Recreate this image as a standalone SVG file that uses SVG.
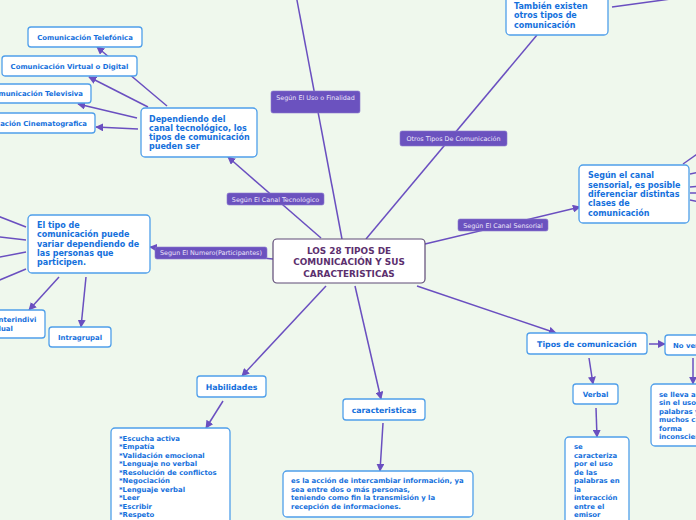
<svg xmlns="http://www.w3.org/2000/svg" width="696" height="520" viewBox="0 0 696 520">
<style>
.bg{fill:#eff8ed}
.n{fill:#fff;stroke:#4f9fea;stroke-width:1.3}
.t{font-family:"DejaVu Sans",Verdana,sans-serif;font-weight:bold;fill:#1470dc}
.s{font-size:6.9px}
.m{font-size:8px}
.lb{fill:#6b52bf;stroke:#8a78cf;stroke-width:0.6}
.lt{font-family:"DejaVu Sans",Verdana,sans-serif;font-size:6.4px;fill:#ece6fa;text-anchor:middle}
.c line{stroke:#6a4fc0;stroke-width:1.5;fill:none}
.mid{text-anchor:middle}
</style>
<defs>
<marker id="ah" viewBox="0 0 10 10" refX="9" refY="5" markerWidth="8" markerHeight="8" markerUnits="userSpaceOnUse" orient="auto"><path d="M0,0 L10,5 L0,10 z" fill="#6a4fc0"/></marker>
</defs>
<rect class="bg" x="0" y="0" width="696" height="520"/>

<g id="connectors" class="c">
<line x1="342" y1="239" x2="296" y2="-5"/>
<line x1="366" y1="239" x2="537" y2="35"/>
<line x1="612" y1="7" x2="700" y2="-5"/>
<line x1="321" y1="238" x2="228" y2="157" marker-end="url(#ah)"/>
<line x1="273" y1="259" x2="150" y2="247" marker-end="url(#ah)"/>
<line x1="425" y1="244" x2="580" y2="207" marker-end="url(#ah)"/>
<line x1="417" y1="286" x2="556" y2="333" marker-end="url(#ah)"/>
<line x1="326" y1="286" x2="242" y2="376" marker-end="url(#ah)"/>
<line x1="355" y1="286" x2="381" y2="399" marker-end="url(#ah)"/>
<line x1="167" y1="106" x2="97" y2="47" marker-end="url(#ah)"/>
<line x1="148" y1="107" x2="89" y2="77" marker-end="url(#ah)"/>
<line x1="137" y1="118" x2="78" y2="104" marker-end="url(#ah)"/>
<line x1="138" y1="129" x2="96" y2="127" marker-end="url(#ah)"/>
<line x1="26" y1="227" x2="-10" y2="213"/>
<line x1="26" y1="240" x2="-10" y2="236"/>
<line x1="26" y1="252" x2="-10" y2="259"/>
<line x1="26" y1="269" x2="-10" y2="284"/>
<line x1="59" y1="277" x2="29" y2="310" marker-end="url(#ah)"/>
<line x1="86" y1="277" x2="81" y2="327" marker-end="url(#ah)"/>
<line x1="683" y1="164" x2="700" y2="152"/>
<line x1="690" y1="174" x2="700" y2="172"/>
<line x1="690" y1="187" x2="700" y2="186"/>
<line x1="690" y1="193" x2="700" y2="193"/>
<line x1="690" y1="200" x2="700" y2="202"/>
<line x1="649" y1="344" x2="665" y2="344" marker-end="url(#ah)"/>
<line x1="589" y1="358" x2="593" y2="384" marker-end="url(#ah)"/>
<line x1="693" y1="358" x2="693" y2="384" marker-end="url(#ah)"/>
<line x1="596" y1="408" x2="597" y2="437" marker-end="url(#ah)"/>
<line x1="223" y1="401" x2="206" y2="428" marker-end="url(#ah)"/>
<line x1="383" y1="423" x2="380" y2="471" marker-end="url(#ah)"/>
</g>

<g id="lbl-uso"><rect class="lb" x="271" y="91" width="89" height="22" rx="2"/><text class="lt" x="315.5" y="99.5">Según El Uso o Finalidad</text></g>
<g id="lbl-otros"><rect class="lb" x="400" y="131" width="107" height="15" rx="2"/><text class="lt" x="453.5" y="141">Otros Tipos De Comunicación</text></g>
<g id="lbl-tec"><rect class="lb" x="227" y="193" width="97" height="12" rx="2"/><text class="lt" x="275.5" y="201.5">Según El Canal Tecnológico</text></g>
<g id="lbl-num"><rect class="lb" x="155" y="247" width="112" height="12" rx="2"/><text class="lt" x="211" y="255.3">Segun El Numero(Participantes)</text></g>
<g id="lbl-sens"><rect class="lb" x="458" y="219" width="90" height="12" rx="2"/><text class="lt" x="503" y="228">Según El Canal Sensorial</text></g>

<g id="center">
<rect x="273" y="239" width="152" height="44" rx="4" fill="#fff" stroke="#5e4a76" stroke-width="1.2"/>
<text font-family="DejaVu Sans,Verdana,sans-serif" font-weight="bold" font-size="8.9" fill="#5c2f6e" text-anchor="middle"><tspan x="349" y="254">LOS 28 TIPOS DE</tspan><tspan x="349" y="265">COMUNICACIÓN Y SUS</tspan><tspan x="349" y="276.5">CARACTERISTICAS</tspan></text>
</g>

<g id="tambien">
<rect class="n" x="506" y="-10" width="102" height="45" rx="4"/>
<text class="t m"><tspan x="514" y="9">También existen</tspan><tspan x="514" y="18.3">otros tipos de</tspan><tspan x="514" y="27.6">comunicación</tspan></text>
</g>

<g id="dependiendo">
<rect class="n" x="141" y="108" width="116" height="49" rx="4"/>
<text class="t m"><tspan x="149" y="121.5">Dependiendo del</tspan><tspan x="149" y="130.8">canal tecnológico, los</tspan><tspan x="149" y="140.1">tipos de comunicación</tspan><tspan x="149" y="149.4">pueden ser</tspan></text>
</g>

<g id="telefonica"><rect class="n" x="28" y="27" width="114" height="20" rx="3"/><text class="t s mid" x="85" y="40">Comunicación Telefónica</text></g>
<g id="virtual"><rect class="n" x="2" y="56" width="135" height="20" rx="3"/><text class="t s mid" x="69.5" y="69">Comunicación Virtual o Digital</text></g>
<g id="televisiva"><rect class="n" x="-24" y="84" width="115" height="19" rx="3"/><text class="t s" x="83" y="96" text-anchor="end">Comunicación Televisiva</text></g>
<g id="cinematografica"><rect class="n" x="-40" y="113" width="135" height="20" rx="3"/><text class="t s" x="87" y="125.5" text-anchor="end">Comunicación Cinematografica</text></g>

<g id="eltipo">
<rect class="n" x="28" y="215" width="122" height="58" rx="4"/>
<text class="t m"><tspan x="37" y="228">El tipo de</tspan><tspan x="37" y="237.3">comunicación puede</tspan><tspan x="37" y="246.6">variar dependiendo de</tspan><tspan x="37" y="255.9">las personas que</tspan><tspan x="37" y="265.2">participen.</tspan></text>
</g>

<g id="interindividual"><rect class="n" x="-20" y="310" width="65" height="28" rx="3"/><text class="t s"><tspan x="-4" y="322">Interindivi</tspan><tspan x="-4" y="331">dual</tspan></text></g>
<g id="intragrupal"><rect class="n" x="49" y="327" width="62" height="20" rx="3"/><text class="t s mid" x="80" y="340">Intragrupal</text></g>

<g id="sensorial">
<rect class="n" x="579" y="165" width="110" height="58" rx="4"/>
<text class="t m"><tspan x="588" y="178.3">Según el canal</tspan><tspan x="588" y="187.6">sensorial, es posible</tspan><tspan x="588" y="196.9">diferenciar distintas</tspan><tspan x="588" y="206.2">clases de</tspan><tspan x="588" y="215.5">comunicación</tspan></text>
</g>

<g id="tipos"><rect class="n" x="527" y="333" width="120" height="21" rx="3"/><text class="t mid" font-size="7.8" x="587" y="346.8">Tipos de comunicación</text></g>
<g id="noverbal"><rect class="n" x="665" y="335" width="60" height="20" rx="3"/><text class="t s" x="673" y="347.5">No verbal</text></g>
<g id="verbal"><rect class="n" x="573" y="384" width="45" height="20" rx="3"/><text class="t mid" font-size="7.1" x="595.5" y="397">Verbal</text></g>

<g id="verbal-desc">
<rect class="n" x="565" y="437" width="64" height="95" rx="4"/>
<text class="t s"><tspan x="574" y="449.3">se</tspan><tspan x="574" y="457.8">caracteriza</tspan><tspan x="574" y="466.3">por el uso</tspan><tspan x="574" y="474.8">de las</tspan><tspan x="574" y="483.3">palabras en</tspan><tspan x="574" y="491.8">la</tspan><tspan x="574" y="500.3">interacción</tspan><tspan x="574" y="508.8">entre el</tspan><tspan x="574" y="517.3">emisor</tspan></text>
</g>

<g id="noverbal-desc">
<rect class="n" x="651" y="384" width="80" height="62" rx="4"/>
<text class="t s"><tspan x="659" y="396.7">se lleva a cabo</tspan><tspan x="659" y="405.2">sin el uso de</tspan><tspan x="659" y="413.7">palabras y en</tspan><tspan x="659" y="422.2">muchos casos de</tspan><tspan x="659" y="430.7">forma</tspan><tspan x="659" y="439.2">inconsciente</tspan></text>
</g>

<g id="habilidades"><rect class="n" x="197" y="376" width="69" height="21" rx="3"/><text class="t mid" font-size="7.8" x="231.5" y="390">Habilidades</text></g>

<g id="habilidades-list">
<rect class="n" x="111" y="428" width="119" height="100" rx="4"/>
<text class="t s"><tspan x="119" y="441">*Escucha activa</tspan><tspan x="119" y="449.4">*Empatía</tspan><tspan x="119" y="457.9">*Validación emocional</tspan><tspan x="119" y="466.3">*Lenguaje no verbal</tspan><tspan x="119" y="474.8">*Resolución de conflictos</tspan><tspan x="119" y="483.2">*Negociación</tspan><tspan x="119" y="491.7">*Lenguaje verbal</tspan><tspan x="119" y="500.1">*Leer</tspan><tspan x="119" y="508.6">*Escribir</tspan><tspan x="119" y="517">*Respeto</tspan></text>
</g>

<g id="caracteristicas"><rect class="n" x="343" y="399" width="82" height="21" rx="3"/><text class="t mid" font-size="7.8" x="384" y="413">caracteristicas</text></g>

<g id="caracteristicas-desc">
<rect class="n" x="283" y="471" width="190" height="46" rx="4"/>
<text class="t s"><tspan x="291" y="483.3">es la acción de intercambiar información, ya</tspan><tspan x="291" y="491.7">sea entre dos o más personas,</tspan><tspan x="291" y="500.1">teniendo como fin la transmisión y la</tspan><tspan x="291" y="508.6">recepción de informaciones.</tspan></text>
</g>
</svg>
